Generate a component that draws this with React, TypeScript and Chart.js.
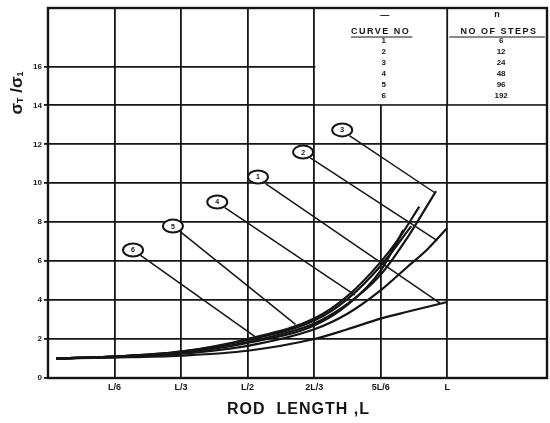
import React, { useEffect, useRef } from "react";
import { Chart, registerables } from "chart.js";
Chart.register(...registerables);

// ---- axis data ----
const xTickValues = [0, 1 / 6, 2 / 6, 3 / 6, 4 / 6, 5 / 6, 1];
const xTickLabels = ["", "L/6", "L/3", "L/2", "2L/3", "5L/6", "L"];
const yTickValues = [0, 2, 4, 6, 8, 10, 12, 14, 16];
const xMax = 1.25;
const yMax = 19;

// ---- curves (x as fraction of L, y = stress ratio) ----
const curve1 = [[0.02, 1.0], [0.167, 1.05], [0.333, 1.15], [0.5, 1.4], [0.667, 2.0], [0.75, 2.5], [0.833, 3.05], [0.9, 3.4], [1.0, 3.9]];
const curve2 = [[0.02, 1.0], [0.167, 1.08], [0.333, 1.25], [0.5, 1.65], [0.667, 2.5], [0.75, 3.3], [0.833, 4.5], [0.9, 5.7], [0.95, 6.6], [1.0, 7.7]];
const curve3 = [[0.02, 1.0], [0.167, 1.1], [0.333, 1.3], [0.5, 1.85], [0.667, 2.8], [0.75, 3.8], [0.833, 5.3], [0.9, 7.2], [0.972, 9.6]];
const curve4 = [[0.02, 1.0], [0.167, 1.1], [0.333, 1.35], [0.5, 2.0], [0.667, 3.05], [0.75, 4.2], [0.833, 5.95], [0.88, 7.2], [0.93, 8.8]];
const curve5 = [[0.02, 1.0], [0.167, 1.1], [0.333, 1.35], [0.5, 1.95], [0.667, 2.95], [0.75, 4.05], [0.833, 5.75], [0.91, 7.8]];
const curve6 = [[0.02, 1.0], [0.167, 1.1], [0.333, 1.3], [0.5, 1.8], [0.667, 2.7], [0.75, 3.75], [0.833, 5.5], [0.89, 7.6]];
const curves = [curve1, curve2, curve3, curve4, curve5, curve6];

// ---- curve labels & leader lines ----
const curveNumbers = ["1", "2", "3", "4", "5", "6"];
const stepCounts = ["6", "12", "24", "48", "96", "192"];
const labelX = [0.526, 0.639, 0.737, 0.424, 0.313, 0.213];
const labelY = [10.32, 11.6, 12.74, 9.04, 7.8, 6.57];
const leaderStartX = [0.546, 0.657, 0.755, 0.443, 0.332, 0.232];
const leaderStartY = [9.97, 11.3, 12.45, 8.75, 7.5, 6.3];
const leaderEndX = [0.982, 0.975, 0.97, 0.769, 0.62, 0.524];
const leaderEndY = [3.85, 7.05, 9.5, 4.25, 2.75, 2.05];

// table layout in data units
const tableLeft = 4 / 6;
const tableDivider = 1;
const tableBottom = 14;

const INK = "#151515";
const FONT = "'Liberation Sans', Arial, sans-serif";

const drawPlugin = {
  id: "sketch",
  beforeDatasetsDraw(chart: any) {
    const { ctx, chartArea: a, scales } = chart;
    const xs = scales.x, ys = scales.y;
    const tl = xs.getPixelForValue(tableLeft);
    const td = xs.getPixelForValue(tableDivider);
    const tb = ys.getPixelForValue(tableBottom);
    ctx.save();
    // white out grid inside table
    ctx.fillStyle = "#fff";
    ctx.fillRect(tl + 1.2, a.top, a.right - tl - 1.2, tb - a.top - 1.2);
    ctx.strokeStyle = INK;
    ctx.lineWidth = 1.8;
    ctx.beginPath();
    ctx.moveTo(td, a.top);
    ctx.lineTo(td, tb);
    ctx.stroke();
    // frame
    ctx.lineWidth = 2.4;
    ctx.strokeRect(a.left, a.top, a.right - a.left, a.bottom - a.top);

    // table text
    const cx1 = (tl + td) / 2 + 1;
    const cx2 = (td + a.right) / 2 + 2;
    ctx.fillStyle = INK;
    ctx.textAlign = "center";
    ctx.textBaseline = "middle";
    ctx.font = `bold 9px ${FONT}`;
    ctx.fillText("—", cx1 + 3, a.top + 8);
    ctx.fillText("n", cx2 - 2, a.top + 7);
    (ctx as any).letterSpacing = "1.5px";
    ctx.font = `bold 9px ${FONT}`;
    ctx.fillText("CURVE NO", cx1 - 1, a.top + 24);
    ctx.fillText("NO OF STEPS", cx2, a.top + 24);
    (ctx as any).letterSpacing = "0px";
    ctx.lineWidth = 1;
    const w1 = ctx.measureText("CURVE NO").width + 14;
    ctx.beginPath();
    ctx.moveTo(cx1 - w1 / 2, a.top + 29);
    ctx.lineTo(cx1 + w1 / 2, a.top + 29);
    ctx.moveTo(td + 2, a.top + 29);
    ctx.lineTo(a.right - 2, a.top + 29);
    ctx.stroke();
    ctx.font = `bold 8px ${FONT}`;
    for (let i = 0; i < curveNumbers.length; i++) {
      const yy = a.top + 33 + i * 11;
      ctx.fillText(curveNumbers[i], cx1 + 2, yy);
      ctx.fillText(stepCounts[i], cx2 + 2, yy);
    }

    // axis titles
    ctx.font = `bold 16px ${FONT}`;
    (ctx as any).letterSpacing = "1px";
    ctx.fillText("ROD  LENGTH ,L", (a.left + a.right) / 2 + 1, a.bottom + 32);
    (ctx as any).letterSpacing = "0px";
    ctx.translate(17, 93);
    ctx.rotate(-Math.PI / 2);
    ctx.textAlign = "left";
    const parts: [string, number, number][] = [["σ", 17, 0], ["T", 9, 4], [" /", 17, 0], ["σ", 17, 0], ["1", 9, 4]];
    let total = 0;
    for (const [t, s] of parts) { ctx.font = `bold ${s}px ${FONT}`; total += ctx.measureText(t).width; }
    let px = -total / 2;
    for (const [t, s, dy] of parts) {
      ctx.font = `bold ${s}px ${FONT}`;
      ctx.fillText(t, px, dy);
      px += ctx.measureText(t).width;
    }
    ctx.restore();
  },
  afterDatasetsDraw(chart: any) {
    const { ctx, scales } = chart;
    ctx.save();
    for (let i = 0; i < curveNumbers.length; i++) {
      const px = scales.x.getPixelForValue(labelX[i]);
      const py = scales.y.getPixelForValue(labelY[i]);
      ctx.beginPath();
      ctx.ellipse(px, py, 10, 6.5, 0, 0, Math.PI * 2);
      ctx.fillStyle = "#fff";
      ctx.fill();
      ctx.lineWidth = 2;
      ctx.strokeStyle = INK;
      ctx.stroke();
      ctx.fillStyle = INK;
      ctx.font = `bold 7px ${FONT}`;
      ctx.textAlign = "center";
      ctx.textBaseline = "middle";
      ctx.fillText(curveNumbers[i], px, py + 0.5);
    }
    ctx.restore();
  },
};

export default function App() {
  const ref = useRef<HTMLCanvasElement>(null);
  useEffect(() => {
    const datasets: any[] = [];
    curves.forEach((c, i) => {
      datasets.push({
        label: "Curve " + curveNumbers[i],
        data: c.map(([x, y]) => ({ x, y })),
        borderColor: INK,
        borderWidth: 2.2,
        pointRadius: 0,
        cubicInterpolationMode: "monotone",
        fill: false,
      });
    });
    curveNumbers.forEach((n, i) => {
      datasets.push({
        label: "Leader " + n,
        data: [
          { x: leaderStartX[i], y: leaderStartY[i] },
          { x: leaderEndX[i], y: leaderEndY[i] },
        ],
        borderColor: INK,
        borderWidth: 1.5,
        pointRadius: 0,
        tension: 0,
        fill: false,
      });
    });
    const chart = new Chart(ref.current!, {
      type: "line",
      data: { datasets },
      options: {
        animation: false,
        responsive: false,
        maintainAspectRatio: false,
        layout: { padding: { top: 8, right: 3, left: 0, bottom: 0 } },
        plugins: { legend: { display: false }, tooltip: { enabled: false } },
        scales: {
          x: {
            type: "linear",
            min: 0,
            max: xMax,
            afterFit: (s: any) => { s.height = 45; },
            afterBuildTicks: (s: any) => { s.ticks = xTickValues.map((v) => ({ value: v })); },
            ticks: {
              callback: (_v: any, i: number) => xTickLabels[i],
              font: { family: FONT, size: 9, weight: "bold" },
              color: INK,
              padding: 4,
              maxRotation: 0,
              autoSkip: false,
            },
            grid: { color: INK, lineWidth: 1.8, drawTicks: false },
            border: { display: false },
          },
          y: {
            type: "linear",
            min: 0,
            max: yMax,
            afterFit: (s: any) => { s.width = 48; },
            afterBuildTicks: (s: any) => { s.ticks = yTickValues.map((v) => ({ value: v })); },
            ticks: {
              callback: (v: any) => String(v),
              font: { family: FONT, size: 8, weight: "bold" },
              color: INK,
              padding: 2,
              autoSkip: false,
            },
            grid: { color: INK, lineWidth: 1.8, tickLength: 4 },
            border: { display: false },
          },
        },
      },
      plugins: [drawPlugin],
    });
    return () => chart.destroy();
  }, []);
  return (
    <div style={{ position: "fixed", left: 0, top: 0, width: 550, height: 423, background: "#fff" }}>
      <canvas ref={ref} width={550} height={423} style={{ width: 550, height: 423 }} />
    </div>
  );
}
